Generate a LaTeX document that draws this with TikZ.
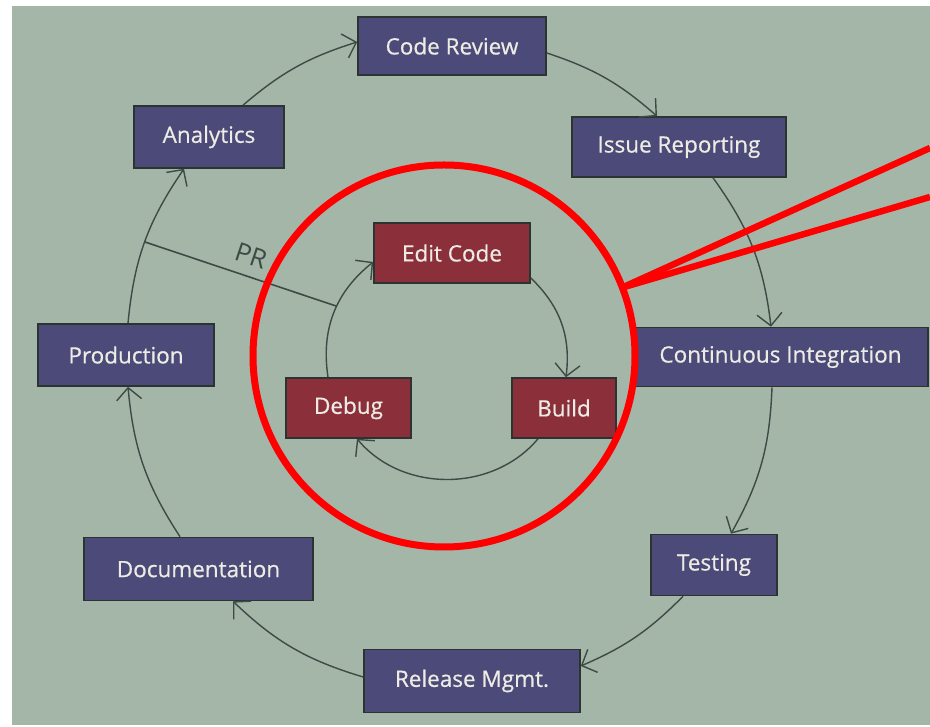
\documentclass[tikz,border=0pt]{standalone}
\usepackage{fontspec}
\setmainfont{Open Sans}
\newfontfamily\boxfont[FakeBold=0.6]{Open Sans}
\usetikzlibrary{arrows.meta}
\definecolor{slidebg}{HTML}{A3B6A8}
\definecolor{outerfill}{HTML}{4B4A78}
\definecolor{innerfill}{HTML}{8B2F3B}
\definecolor{boxtext}{HTML}{ECECE4}
\definecolor{edgecol}{HTML}{3E4A46}
\definecolor{bordercol}{HTML}{2C3432}
\definecolor{annot}{HTML}{FF0000}
\begin{document}
\begin{tikzpicture}[x=1pt,y=1pt,
  boxbase/.style={draw=bordercol, line width=1.6pt, text=boxtext, inner sep=0pt,
    font=\boxfont\fontsize{22.5}{26}\selectfont},
  outerbox/.style={boxbase, fill=outerfill},
  innerbox/.style={boxbase, fill=innerfill},
  flow/.style={draw=edgecol, line width=1.4pt,
    -{Straight Barb[length=12pt,width=25pt,line width=1.4pt]}},
  plainline/.style={draw=edgecol, line width=1.6pt},
  annotline/.style={draw=annot, line width=6.5pt},
  annotring/.style={draw=annot, line width=7pt}
]
\useasboundingbox (0,0) rectangle (930,727);
\fill[white] (0,0) rectangle (930,727);
\fill[slidebg] (12,2) rectangle (930,721);

% outer cycle
\node[outerbox, minimum width=188pt, minimum height=58pt] (cr) at (452,681) {Code Review};
\node[outerbox, minimum width=214pt, minimum height=60pt] (ir) at (679,580) {Issue Reporting};
\node[outerbox, minimum width=295pt, minimum height=59pt] (ci) at (780.5,370) {Continuous Integration};
\node[outerbox, minimum width=126pt, minimum height=61pt] (te) at (714,162) {Testing};
\node[outerbox, minimum width=216pt, minimum height=63pt] (rm) at (472,46) {Release Mgmt.};
\node[outerbox, minimum width=229pt, minimum height=63pt] (do) at (198.5,158) {Documentation};
\node[outerbox, minimum width=176pt, minimum height=62pt] (pr) at (126,372) {Production};
\node[outerbox, minimum width=150pt, minimum height=62pt] (an) at (209,590) {Analytics};

% inner cycle
\node[innerbox, minimum width=156pt, minimum height=60pt] (ec) at (452,474) {Edit Code};
\node[innerbox, minimum width=104pt, minimum height=60pt] (bu) at (564,319) {Build};
\node[innerbox, minimum width=125pt, minimum height=60pt] (de) at (348.5,319) {Debug};

% outer connectors
\draw[flow] ([xshift=34pt]an.north) to[bend left=11.5] ([yshift=4pt]cr.west);
\draw[flow] ([yshift=-7pt]cr.east) to[bend left=11.5] ([xshift=-22pt]ir.north);
\draw[flow] ([xshift=34pt]ir.south) to[bend left=14.5] ([xshift=-9.5pt]ci.north);
\draw[flow] ([xshift=-8.5pt]ci.south) to[bend left=13.5] ([xshift=17pt]te.north);
\draw[flow] ([xshift=-31pt]te.south) to[bend left=11] ([yshift=15pt]rm.east);
\draw[flow] ([yshift=4pt]rm.west) to[bend left=13.5] ([xshift=34.5pt]do.south);
\draw[flow] ([xshift=-18.5pt]do.north) to[bend left=14] ([xshift=2pt]pr.south);
\draw[flow] ([xshift=2pt]pr.north) to[bend left=14.5] coordinate[pos=0.5] (prA) ([xshift=-25pt]an.south);

% inner connectors
\draw[flow] ([yshift=-25pt]ec.east) to[bend left=26.5] ([xshift=2pt]bu.north);
\draw[flow] ([xshift=-26pt]bu.south) to[bend left=50] ([xshift=8.5pt]de.south);
\draw[flow] ([xshift=-20.5pt]de.north) to[bend left=30] coordinate[pos=0.56] (prB) ([yshift=-9pt]ec.west);

% PR link
\draw[plainline] (prA) -- node[sloped, above=7pt, pos=0.52, text=edgecol,
  font=\fontsize{26}{30}\selectfont] (prlabel) {PR} (prB);

% red annotation
\coordinate (ringc) at (444,371);
\draw[annotring] (ringc) circle[radius=191];
\coordinate (ringpt) at ([shift={(21:191)}]ringc);
\coordinate (farA) at (930,579);
\coordinate (farB) at (930,530);
\draw[annotline] (ringpt) -- (farA);
\draw[annotline] (ringpt) -- (farB);
\end{tikzpicture}
\end{document}
